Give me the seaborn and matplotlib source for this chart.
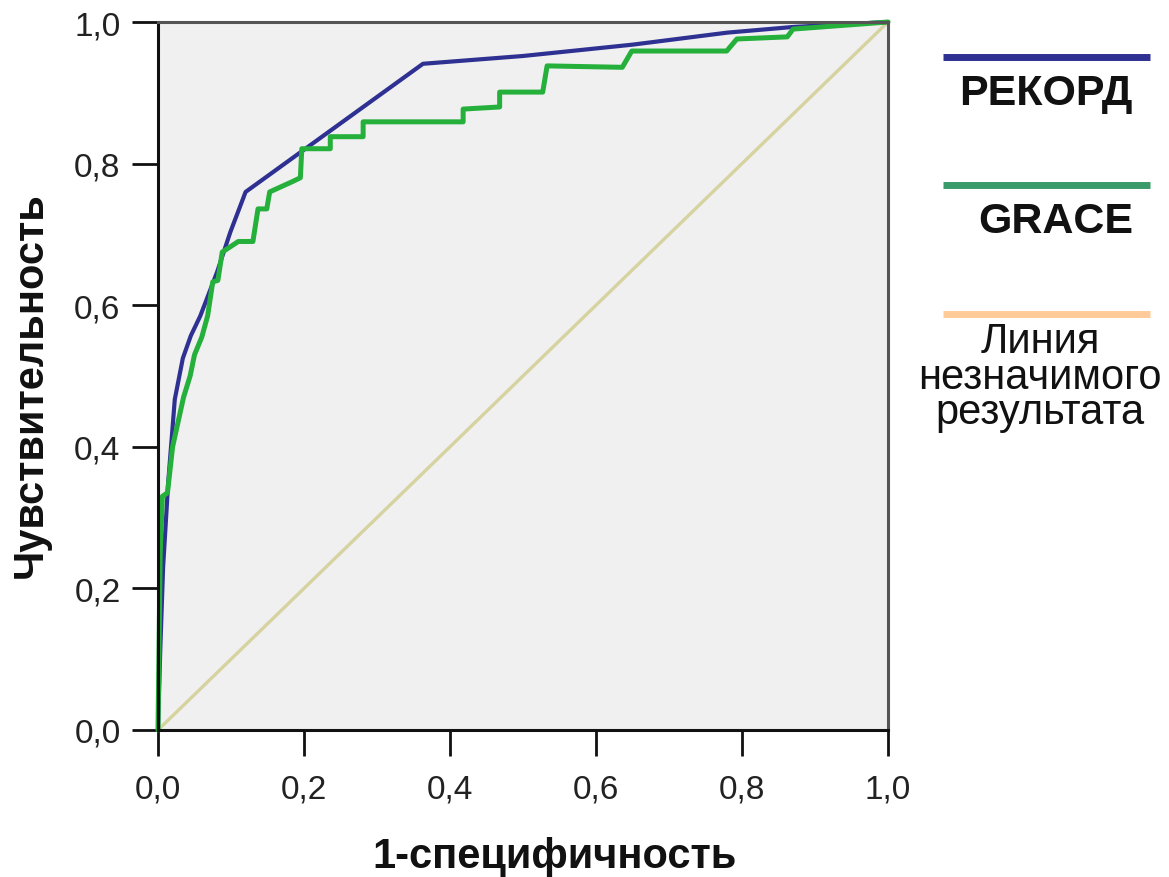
import matplotlib
matplotlib.use("Agg")
import matplotlib.pyplot as plt
from matplotlib.lines import Line2D
import seaborn as sns

# ---- data ----
fpr_rekord = [0, 0.003, 0.007, 0.014, 0.023, 0.034, 0.045, 0.058, 0.081, 0.099, 0.12,
              0.363, 0.5, 0.65, 0.78, 0.87, 1.0]
tpr_rekord = [0, 0.11, 0.23, 0.35, 0.467, 0.525, 0.557, 0.585, 0.647, 0.703, 0.76,
              0.941, 0.952, 0.968, 0.985, 0.993, 1.0]

fpr_grace = [0, 0.003, 0.006, 0.013, 0.02, 0.035, 0.044, 0.05, 0.06, 0.068,
             0.075, 0.082, 0.088, 0.11, 0.13, 0.137, 0.149, 0.153, 0.185, 0.195,
             0.197, 0.236, 0.236, 0.281, 0.281, 0.418, 0.418, 0.468, 0.468, 0.527,
             0.533, 0.636, 0.649, 0.779, 0.793, 0.862, 0.870, 1.0]
tpr_grace = [0, 0.25, 0.33, 0.335, 0.40, 0.47, 0.50, 0.53, 0.555, 0.585,
             0.633, 0.635, 0.675, 0.69, 0.69, 0.736, 0.736, 0.76, 0.775, 0.78,
             0.821, 0.821, 0.838, 0.838, 0.859, 0.859, 0.877, 0.880, 0.901, 0.901,
             0.938, 0.936, 0.959, 0.959, 0.976, 0.979, 0.990, 1.0]

diag_x = [0, 1]
diag_y = [0, 1]

tick_values = [0.0, 0.2, 0.4, 0.6, 0.8, 1.0]
tick_labels = ["0,0", "0,2", "0,4", "0,6", "0,8", "1,0"]

series_names = ["РЕКОРД", "GRACE"]
ref_name_lines = ["Линия", "незначимого", "результата"]
x_title = "1-специфичность"
y_title = "Чувствительность"

# ---- style ----
sns.set_style("white")
plt.rcParams["font.family"] = ["Liberation Sans", "DejaVu Sans"]

W, H = 1169, 878
fig = plt.figure(figsize=(W / 100, H / 100), dpi=100)
ax = fig.add_axes([158 / W, 1 - 731 / H, (888 - 158) / W, (731 - 23) / H])
ax.set_facecolor("#f0f0f0")

c_blue = "#2e3192"
c_green = "#25b03c"
c_diag = "#d6d3a0"

sns.lineplot(x=diag_x, y=diag_y, ax=ax, color=c_diag, linewidth=2.4,
             sort=False, estimator=None, clip_on=False)
sns.lineplot(x=fpr_rekord, y=tpr_rekord, ax=ax, color=c_blue, linewidth=3.0,
             sort=False, estimator=None, clip_on=False)
sns.lineplot(x=fpr_grace, y=tpr_grace, ax=ax, color=c_green, linewidth=3.6,
             sort=False, estimator=None, clip_on=False)

ax.set_xlim(0, 1)
ax.set_ylim(0, 1)
ax.set_xticks(tick_values)
ax.set_xticklabels(tick_labels)
ax.set_yticks(tick_values)
ax.set_yticklabels(tick_labels)
ax.tick_params(axis="both", which="major", bottom=True, left=True, top=False, right=False,
               direction="out", length=19, width=2, pad=8,
               labelsize=24, labelcolor="#222222", color="#111111")
ax.tick_params(axis="x", pad=12)
ax.grid(False)

for side in ["left", "bottom"]:
    ax.spines[side].set_color("#111111")
    ax.spines[side].set_linewidth(2.2)
for side in ["top", "right"]:
    ax.spines[side].set_color("#555555")
    ax.spines[side].set_linewidth(2.2)
    ax.spines[side].set_visible(True)

# axis titles
fig.text(555 / W, 1 - 857 / H, x_title, ha="center", va="center",
         fontsize=30, fontweight="bold", color="#111111")
fig.text(31 / W, 1 - 385 / H, y_title, ha="center", va="center",
         rotation=90, fontsize=30, fontweight="bold", color="#111111")

# legend (manual, figure coords)
def leg_line(ypx, color):
    fig.add_artist(Line2D([943 / W, 1150 / W], [1 - ypx / H, 1 - ypx / H],
                          color=color, linewidth=5, transform=fig.transFigure,
                          solid_capstyle="butt"))

leg_line(58, c_blue)
leg_line(186, "#3a9a6a")
leg_line(315, "#ffcc99")

fig.text(1133 / W, 1 - 105 / H, series_names[0], ha="right", va="baseline",
         fontsize=31, fontweight="bold", color="#111111")
fig.text(1133 / W, 1 - 233 / H, series_names[1], ha="right", va="baseline",
         fontsize=31, fontweight="bold", color="#111111")
fig.text(1040 / W, 1 - 322 / H, "\n".join(ref_name_lines), ha="center", va="top",
         multialignment="center", linespacing=0.86,
         fontsize=30, color="#111111")

fig.savefig("out.png", dpi=100, facecolor="white")
